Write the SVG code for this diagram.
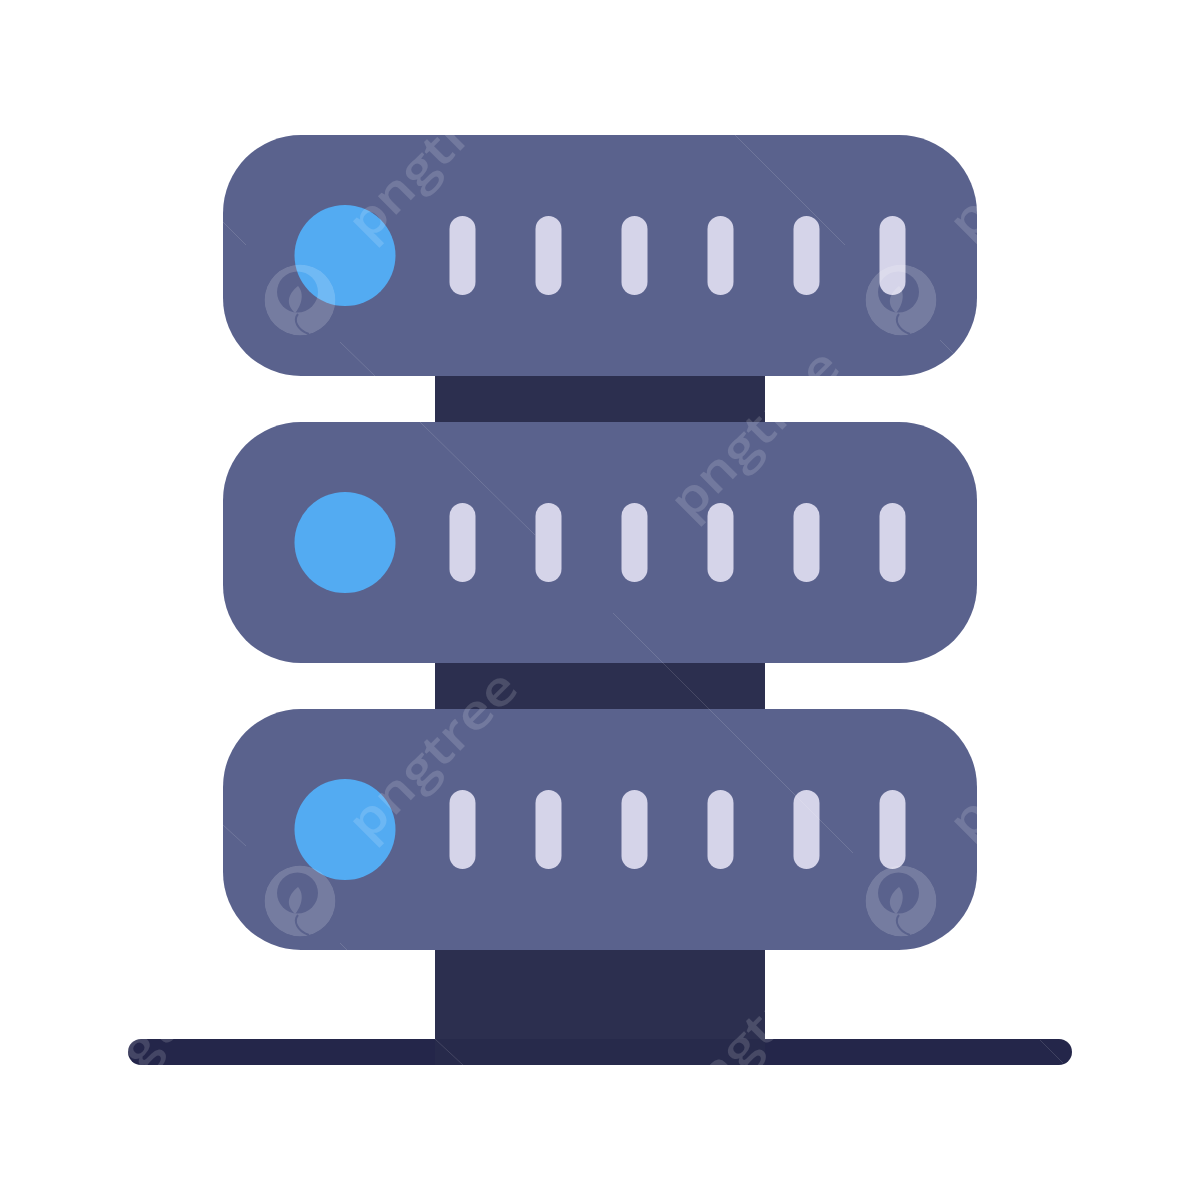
<svg xmlns="http://www.w3.org/2000/svg" width="1200" height="1200" viewBox="0 0 1200 1200">
<style>
.unit{fill:#5a628d}.led{fill:#53abf2}.slot{fill:#d5d4e9}.post{fill:#2c2f4f}.base{fill:#24264a}
.wm{font-family:"Open Sans","Liberation Sans",sans-serif;font-size:48px;font-weight:600;fill:#fff;fill-opacity:.15}
.hair{stroke:#fff;stroke-opacity:.13;stroke-width:1;fill:none}
</style>
<defs>
<g id="slots">
<rect class="slot" x="449.500" y="216" width="26" height="79" rx="13"/>
<rect class="slot" x="535.500" y="216" width="26" height="79" rx="13"/>
<rect class="slot" x="621.500" y="216" width="26" height="79" rx="13"/>
<rect class="slot" x="707.500" y="216" width="26" height="79" rx="13"/>
<rect class="slot" x="793.500" y="216" width="26" height="79" rx="13"/>
<rect class="slot" x="879.500" y="216" width="26" height="79" rx="13"/>
</g>
<mask id="logo-mask" maskUnits="userSpaceOnUse" x="-40" y="-40" width="80" height="80">
<circle r="35.500" fill="#fff"/>
<circle cx="-2.500" cy="-8" r="20.500" fill="#000"/>
<path d="M-2-14C-12-6-15 4-5 13C1 6 5-6-2-14Z" fill="#fff"/>
<path d="M-2 14C-7 20-3 30 9 34" fill="none" stroke="#000" stroke-width="2"/>
</mask>
<circle id="logo" r="35.500" fill="#fff" fill-opacity=".17" mask="url(#logo-mask)"/>
</defs>
<rect width="1200" height="1200" fill="#fff"/>
<g id="connectors">
<rect class="post" x="435" y="370" width="330" height="60"/>
<rect class="post" x="435" y="657" width="330" height="60"/>
<rect class="post" x="435" y="944" width="330" height="100"/>
</g>
<g id="base"><rect class="base" x="128" y="1039" width="944" height="26" rx="13"/><rect x="435" y="1039" width="330" height="26" fill="#272a4b"/></g>
<g id="server-1">
<rect class="unit" x="223" y="135" width="754" height="241" rx="78"/>
<circle class="led" cx="345" cy="255.500" r="50.500"/>
<use href="#slots"/>
</g>
<g id="server-2">
<rect class="unit" x="223" y="422" width="754" height="241" rx="78"/>
<circle class="led" cx="345" cy="542.500" r="50.500"/>
<use href="#slots" y="287"/>
</g>
<g id="server-3">
<rect class="unit" x="223" y="709" width="754" height="241" rx="78"/>
<circle class="led" cx="345" cy="829.500" r="50.500"/>
<use href="#slots" y="574"/>
</g>
<g id="watermark">
<path class="hair" d="M735 135L845 245M223 222L246 245M340 342L375 376M940 340L955 355M420 422L535 535M613 613L853 853M223 825L246 846M340 943L347 950M940 941L950 950M435 1039L463 1065M1040 1040L1063 1063"/>
<text class="wm" transform="translate(368 243) rotate(-45)" textLength="216" lengthAdjust="spacingAndGlyphs">pngtree</text>
<text class="wm" transform="translate(969 243) rotate(-45)" textLength="216" lengthAdjust="spacingAndGlyphs">pngtree</text>
<text class="wm" transform="translate(690 522) rotate(-45)" textLength="216" lengthAdjust="spacingAndGlyphs">pngtree</text>
<text class="wm" transform="translate(368 843) rotate(-45)" textLength="216" lengthAdjust="spacingAndGlyphs">pngtree</text>
<text class="wm" transform="translate(969 843) rotate(-45)" textLength="216" lengthAdjust="spacingAndGlyphs">pngtree</text>
<text class="wm" transform="translate(90 1122) rotate(-45)" textLength="216" lengthAdjust="spacingAndGlyphs">pngtree</text>
<text class="wm" transform="translate(690 1122) rotate(-45)" textLength="216" lengthAdjust="spacingAndGlyphs">pngtree</text>
<use href="#logo" x="300" y="300"/>
<use href="#logo" x="901" y="300"/>
<use href="#logo" x="300" y="901"/>
<use href="#logo" x="901" y="901"/>
</g>
</svg>
